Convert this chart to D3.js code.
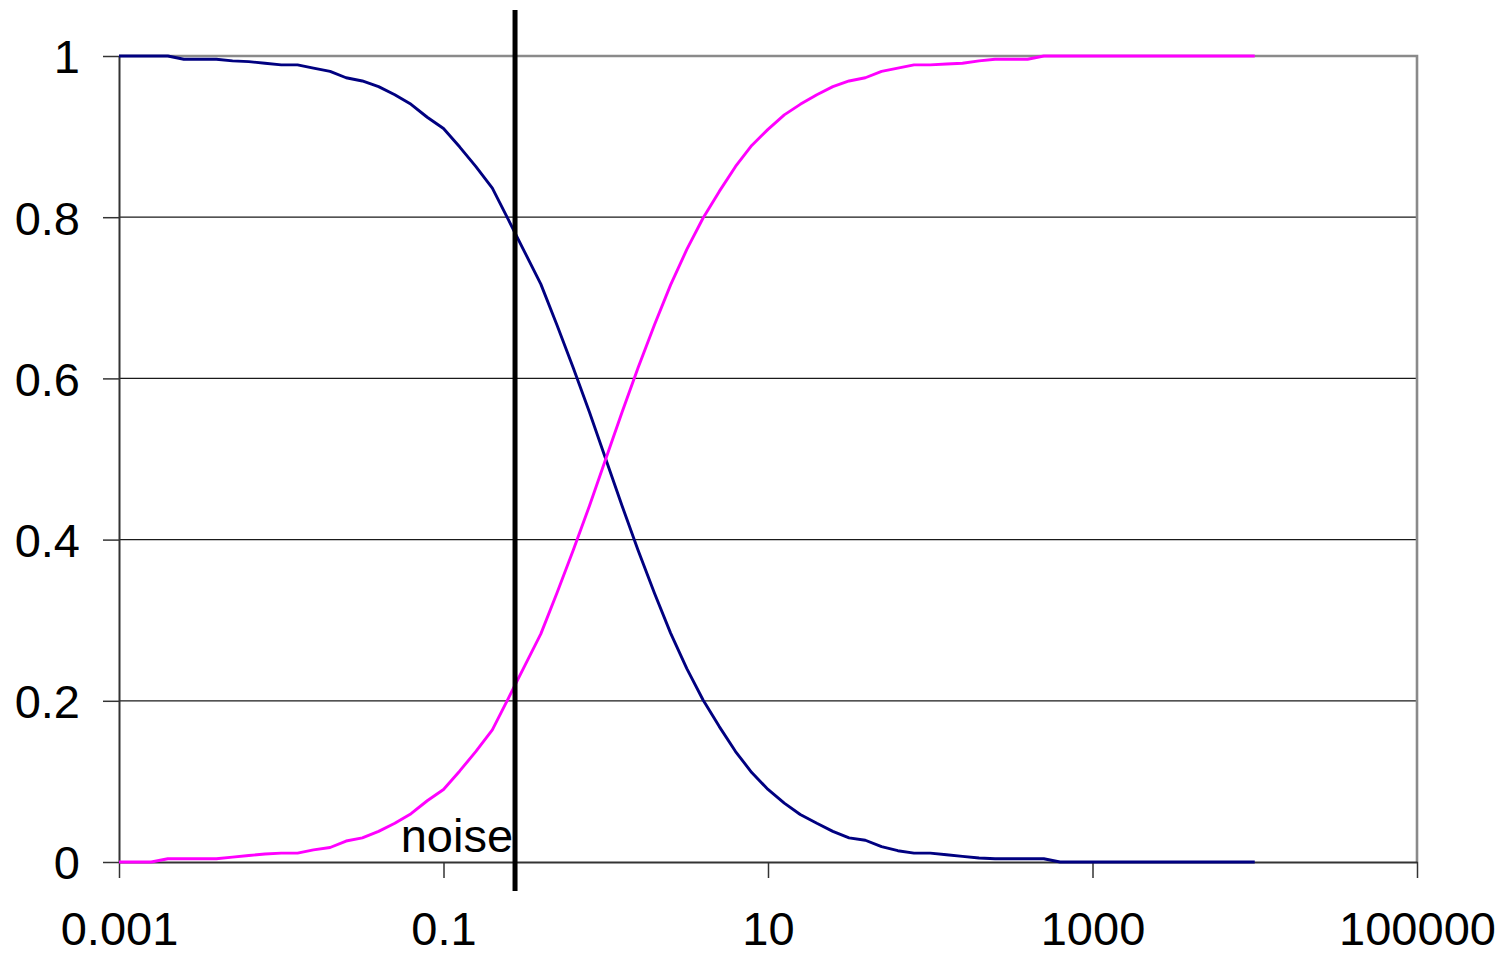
<!DOCTYPE html>
<html>
<head>
<meta charset="utf-8">
<script src="https://cdn.jsdelivr.net/npm/d3@7"></script>
<style>
  html, body { margin: 0; padding: 0; background: #ffffff; }
  svg { display: block; font-family: "Liberation Sans", Arial, sans-serif; }
</style>
</head>
<body>
<svg id="chart" width="1502" height="956"></svg>
<script>
// ---- data ----
const xValues = [
  0.001, 0.00126, 0.00158, 0.002, 0.00251, 0.00316, 0.00398, 0.00501, 0.00631, 0.00794,
  0.01, 0.0126, 0.0158, 0.02, 0.0251, 0.0316, 0.0398, 0.0501, 0.0631, 0.0794,
  0.1, 0.126, 0.158, 0.2, 0.251, 0.316, 0.398, 0.501, 0.631, 0.794,
  1, 1.26, 1.58, 2, 2.51, 3.16, 3.98, 5.01, 6.31, 7.94,
  10, 12.6, 15.8, 20, 25.1, 31.6, 39.8, 50.1, 63.1, 79.4,
  100, 126, 158, 200, 251, 316, 398, 501, 631, 794,
  1000, 1260, 1580, 2000, 2510, 3160, 3980, 5010, 6310, 7940,
  10000
];
const blueSeries = [
  1.000, 1.000, 1.000, 1.000, 0.996, 0.996, 0.996, 0.994, 0.993, 0.991,
  0.989, 0.989, 0.985, 0.981, 0.973, 0.969, 0.962, 0.952, 0.940, 0.924,
  0.910, 0.887, 0.863, 0.836, 0.797, 0.757, 0.717, 0.666, 0.613, 0.558,
  0.500, 0.442, 0.387, 0.333, 0.284, 0.240, 0.201, 0.168, 0.137, 0.111,
  0.090, 0.073, 0.059, 0.048, 0.038, 0.030, 0.027, 0.019, 0.014, 0.011,
  0.011, 0.009, 0.007, 0.005, 0.004, 0.004, 0.004, 0.004, 0.000, 0.000,
  0.000, 0.000, 0.000, 0.000, 0.000, 0.000, 0.000, 0.000, 0.000, 0.000,
  0.000
];
const magentaSeries = [
  0.000, 0.000, 0.000, 0.004, 0.004, 0.004, 0.004, 0.006, 0.008, 0.010,
  0.011, 0.011, 0.015, 0.018, 0.026, 0.030, 0.038, 0.048, 0.060, 0.076,
  0.090, 0.113, 0.137, 0.164, 0.203, 0.243, 0.283, 0.334, 0.387, 0.442,
  0.500, 0.558, 0.613, 0.667, 0.716, 0.760, 0.799, 0.832, 0.863, 0.889,
  0.909, 0.927, 0.940, 0.952, 0.962, 0.969, 0.973, 0.981, 0.985, 0.989,
  0.989, 0.990, 0.991, 0.994, 0.996, 0.996, 0.996, 1.000, 1.000, 1.000,
  1.000, 1.000, 1.000, 1.000, 1.000, 1.000, 1.000, 1.000, 1.000, 1.000,
  1.000
];
const xTickValues = [0.001, 0.1, 10, 1000, 100000];
const xTickLabels = ["0.001", "0.1", "10", "1000", "100000"];
const yTickValues = [0, 0.2, 0.4, 0.6, 0.8, 1];
const yTickLabels = ["0", "0.2", "0.4", "0.6", "0.8", "1"];
const noiseValue = [0.276];
const noiseLabel = ["noise"];

// ---- layout ----
const plotLeft = 119, plotRight = 1417, plotTop = 56, plotBottom = 862;
const fontSize = 47;
const svg = d3.select("#chart");

const x = d3.scaleLog().domain([0.001, 100000]).range([plotLeft, plotRight]);
const y = d3.scaleLinear().domain([0, 1]).range([plotBottom, plotTop]);

// gridlines
svg.append("g")
  .selectAll("line")
  .data(yTickValues.filter(v => v > 0 && v < 1))
  .join("line")
  .attr("x1", plotLeft).attr("x2", plotRight)
  .attr("y1", d => y(d)).attr("y2", d => y(d))
  .attr("stroke", "#1a1a1a").attr("stroke-width", 1.2);

// top and right frame (gray)
svg.append("path")
  .attr("d", `M${plotLeft},${y(1)}H${plotRight}V${plotBottom}`)
  .attr("fill", "none").attr("stroke", "#8a8a8a").attr("stroke-width", 2.6);

// axes
const xAxis = d3.axisBottom(x)
  .tickValues(xTickValues)
  .tickFormat((d, i) => xTickLabels[i])
  .tickSize(16).tickSizeOuter(0).tickPadding(34);
const gx = svg.append("g").attr("transform", `translate(0,${plotBottom})`).call(xAxis);
gx.select(".domain").attr("stroke", "#333").attr("stroke-width", 2);
gx.selectAll(".tick line").attr("stroke", "#333").attr("stroke-width", 1.5);
gx.selectAll(".tick text").attr("font-size", fontSize).attr("fill", "#000")
  .attr("font-family", "'Liberation Sans', Arial, sans-serif");

const yAxis = d3.axisLeft(y)
  .tickValues(yTickValues)
  .tickFormat((d, i) => yTickLabels[i])
  .tickSize(16).tickSizeOuter(0).tickPadding(23);
const gy = svg.append("g").attr("transform", `translate(${plotLeft},0)`).call(yAxis);
gy.select(".domain").attr("stroke", "#333").attr("stroke-width", 2);
gy.selectAll(".tick line").attr("stroke", "#333").attr("stroke-width", 1.5);
gy.selectAll(".tick text").attr("font-size", fontSize).attr("fill", "#000").attr("dy", "0.36em")
  .attr("font-family", "'Liberation Sans', Arial, sans-serif");

// series
const line = d3.line().x(d => x(d[0])).y(d => y(d[1]));
svg.append("path")
  .datum(xValues.map((v, i) => [v, blueSeries[i]]))
  .attr("d", line).attr("fill", "none")
  .attr("stroke", "#000080").attr("stroke-width", 2.9).attr("stroke-linejoin", "round");
svg.append("path")
  .datum(xValues.map((v, i) => [v, magentaSeries[i]]))
  .attr("d", line).attr("fill", "none")
  .attr("stroke", "#ff00ff").attr("stroke-width", 2.9).attr("stroke-linejoin", "round");

// noise marker
svg.append("text")
  .attr("x", x(noiseValue[0]) - 2).attr("y", 852)
  .attr("text-anchor", "end").attr("font-size", fontSize).attr("fill", "#000")
  .text(noiseLabel[0]);
svg.append("line")
  .attr("x1", x(noiseValue[0])).attr("x2", x(noiseValue[0]))
  .attr("y1", 10).attr("y2", 891)
  .attr("stroke", "#000").attr("stroke-width", 5);
</script>
</body>
</html>
